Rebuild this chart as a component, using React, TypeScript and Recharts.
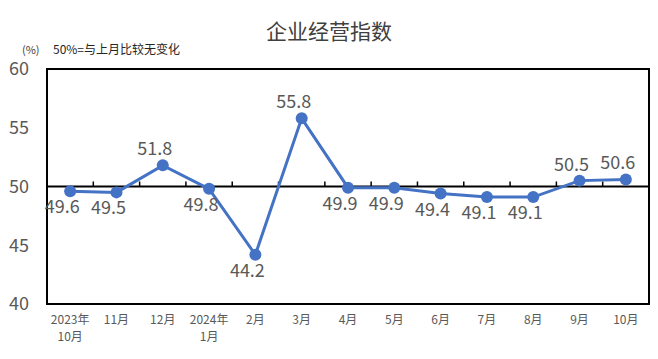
import React from "react";
import { LineChart, Line, XAxis, YAxis, ReferenceLine, ReferenceArea, LabelList } from "recharts";

const months = ["2023年\n10月", "11月", "12月", "2024年\n1月", "2月", "3月", "4月", "5月", "6月", "7月", "8月", "9月", "10月"];
const indexValues = [49.6, 49.5, 51.8, 49.8, 44.2, 55.8, 49.9, 49.9, 49.4, 49.1, 49.1, 50.5, 50.6];
const yTicks = [40, 45, 50, 55, 60];
const baseline = 50;

const data = months.map((m, i) => ({ month: m, value: indexValues[i] }));

const FONT = "'Noto Sans CJK SC', 'Noto Sans', sans-serif";
const BLUE = "#4472C4";

function MonthTick(props: any) {
  const { x, y, payload } = props;
  const lines = String(payload.value).split("\n");
  return (
    <g>
      {lines.map((l, i) => (
        <text key={i} x={x} y={y + 12 + i * 17} textAnchor="middle" fontSize={12} fill="#595959" fontFamily={FONT}>
          {l}
        </text>
      ))}
    </g>
  );
}

// 50 line with small upward ticks at category boundaries
function BaseLineShape(props: any) {
  const { x1, y1, x2, y2 } = props;
  const n = months.length;
  const step = (x2 - x1) / n;
  const marks = [];
  for (let i = 1; i < n; i++) {
    const x = x1 + step * i;
    marks.push(<line key={i} x1={x} x2={x} y1={y1} y2={y1 - 5} stroke="#000" strokeWidth={1.5} />);
  }
  return (
    <g>
      <line x1={x1} y1={y1} x2={x2} y2={y2} stroke="#000" strokeWidth={2} />
      {marks}
    </g>
  );
}

function ValueLabel(props: any) {
  const { x, y, value } = props;
  const above = value >= baseline;
  return (
    <text x={x - 8} y={above ? y - 10 : y + 22} textAnchor="middle" fontSize={18} fill="#595959" fontFamily={FONT}>
      {Number(value).toFixed(1)}
    </text>
  );
}

export default function App() {
  return (
    <div style={{ position: "absolute", left: 0, top: 0, width: 658, height: 359, background: "#fff", fontFamily: FONT }}>
      <div style={{ position: "absolute", top: 15, left: 0, width: 658, textAlign: "center", fontSize: 21, color: "#404040" }}>
        企业经营指数
      </div>
      <div style={{ position: "absolute", top: 41, left: 22, fontSize: 11, color: "#404040" }}>(%)</div>
      <div style={{ position: "absolute", top: 40, left: 53, fontSize: 12, color: "#262626" }}>
        50%=与上月比较无变化
      </div>
      <LineChart width={658} height={359} data={data} margin={{ top: 69, right: 9, bottom: 0, left: 0 }}>
        <XAxis dataKey="month" scale="band" interval={0} axisLine={false} tickLine={false} tick={<MonthTick />} height={55} />
        <YAxis
          domain={[40, 60]}
          ticks={yTicks}
          width={47}
          axisLine={false}
          tickLine={false}
          tickMargin={12}
          tick={{ fontSize: 18, fill: "#595959", fontFamily: FONT }}
        />
        <ReferenceArea y1={40} y2={60} fill="none" stroke="#000" strokeWidth={2} />
        <ReferenceLine y={baseline} shape={<BaseLineShape />} />
        <Line
          dataKey="value"
          stroke={BLUE}
          strokeWidth={3}
          dot={{ r: 6, fill: BLUE, stroke: BLUE, strokeWidth: 0 }}
          isAnimationActive={false}
        >
          <LabelList dataKey="value" content={<ValueLabel />} />
        </Line>
      </LineChart>
    </div>
  );
}
